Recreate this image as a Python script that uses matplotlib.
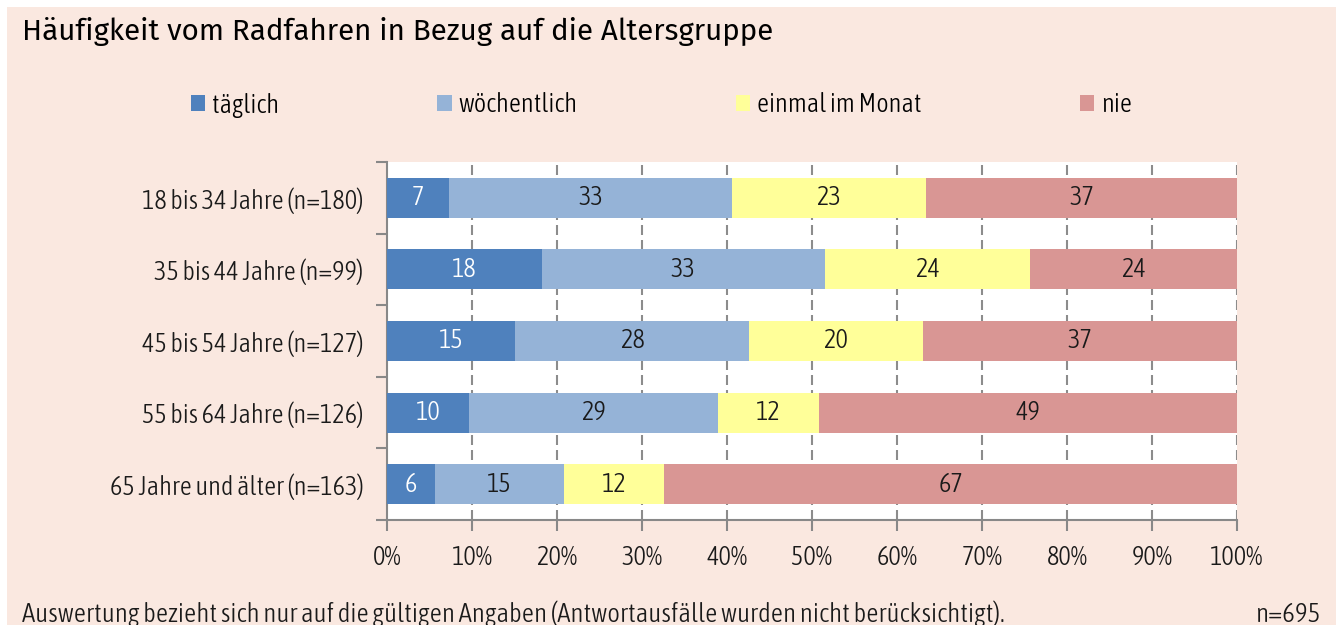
import numpy as np
import matplotlib
matplotlib.use("Agg")
import matplotlib.pyplot as plt
from matplotlib.patches import Rectangle

# data (shares in %, labels are the rounded values)
groups = ["18 bis 34 Jahre (n=180)", "35 bis 44 Jahre (n=99)",
          "45 bis 54 Jahre (n=127)", "55 bis 64 Jahre (n=126)",
          "65 Jahre und älter (n=163)"]
series = ["täglich", "wöchentlich", "einmal im Monat", "nie"]
taeglich    = [7.3, 18.2, 15.1, 9.6, 5.6]
woechentl   = [33.3, 33.3, 27.5, 29.3, 15.2]
monatlich   = [22.8, 24.2, 20.4, 11.9, 11.8]
nie         = [36.6, 24.3, 37.0, 49.2, 67.4]
x_ticks     = [0, 10, 20, 30, 40, 50, 60, 70, 80, 90, 100]

COLORS  = ["#4F81BD", "#95B3D7", "#FFFF99", "#D99694"]
TXT_COL = ["white", "#1a1a1a", "#1a1a1a", "#1a1a1a"]
BG      = "#FAE8E0"
GRID    = "#8C8C8C"
NARROW  = ["Asap Condensed", "DejaVu Sans"]
TITLE_F = ["Fira Sans", "Open Sans", "DejaVu Sans"]
FS      = 19
LIGHT   = 300

W, H = 1342, 625
fig = plt.figure(figsize=(W / 100, H / 100), dpi=100, facecolor="white")
fig.patches.append(Rectangle((7 / W, 0), (1336 - 7) / W, 1 - 7 / H,
                             transform=fig.transFigure, facecolor=BG,
                             edgecolor="none", zorder=-5))

ax = fig.add_axes([387 / W, 1 - 520 / H, (1237 - 387) / W, (520 - 162) / H])
ax.set_facecolor("white")

vals = np.array([taeglich, woechentl, monatlich, nie], dtype=float)
pct  = vals / vals.sum(axis=0) * 100
y    = np.arange(len(groups))
left = np.zeros(len(groups))
handles = []
for i, name in enumerate(series):
    bars = ax.barh(y, pct[i], left=left, height=0.56, color=COLORS[i],
                   edgecolor="none", label=name, zorder=3)
    handles.append(bars)
    for j, b in enumerate(bars):
        ax.text(left[j] + pct[i][j] / 2, y[j], f"{vals[i][j]:.0f}",
                ha="center", va="center", fontsize=FS, color=TXT_COL[i],
                family=NARROW, fontweight=LIGHT, zorder=4)
    left += pct[i]

ax.set_xlim(0, 100)
ax.set_ylim(len(groups) - 0.5, -0.5)
ax.set_xticks(x_ticks)
ax.set_xticklabels([f"{t}%" for t in x_ticks], family=NARROW, fontsize=FS,
                   fontweight=LIGHT)
ax.set_yticks(y)
ax.set_yticklabels(groups, family=NARROW, fontsize=FS, fontweight=LIGHT)
ax.set_yticks(np.arange(-0.5, len(groups), 1), minor=True)
ax.tick_params(axis="y", which="major", length=0, pad=17, colors="#1a1a1a")
ax.tick_params(axis="y", which="minor", length=8, width=1.5, color="#888888")
ax.tick_params(axis="x", length=8, width=1.5, color="#888888", pad=10,
               labelcolor="#1a1a1a")

for xv in x_ticks[1:]:
    ax.axvline(xv, color=GRID, lw=1.5, ls=(0, (4.8, 2.4)), zorder=2)

for s in ["top", "right"]:
    ax.spines[s].set_visible(False)
for s in ["left", "bottom"]:
    ax.spines[s].set_color("#888888")
    ax.spines[s].set_linewidth(1.5)

leg = fig.legend(handles=handles, loc="center left",
                 bbox_to_anchor=(180 / W, 1 - 105 / H), ncol=4,
                 frameon=False,
                 prop={"family": NARROW, "size": FS, "weight": LIGHT},
                 handlelength=0.55, handleheight=0.55, handletextpad=0.25,
                 columnspacing=6.0, borderaxespad=0)

fig.text(22 / W, 1 - 32 / H, "Häufigkeit vom Radfahren in Bezug auf die Altersgruppe",
         fontsize=21.3, family=TITLE_F, color="black", va="center")
fig.text(22 / W, 1 - 614 / H,
         "Auswertung bezieht sich nur auf die gültigen Angaben "
         "(Antwortausfälle wurden nicht berücksichtigt).",
         fontsize=19.4, family=NARROW, fontweight=LIGHT, color="#1a1a1a",
         va="center")
fig.text(1320 / W, 1 - 614 / H, "n=695", fontsize=19.4, family=NARROW,
         fontweight=LIGHT, color="#1a1a1a", va="center", ha="right")

fig.savefig("out.png", dpi=100, facecolor=fig.get_facecolor())
